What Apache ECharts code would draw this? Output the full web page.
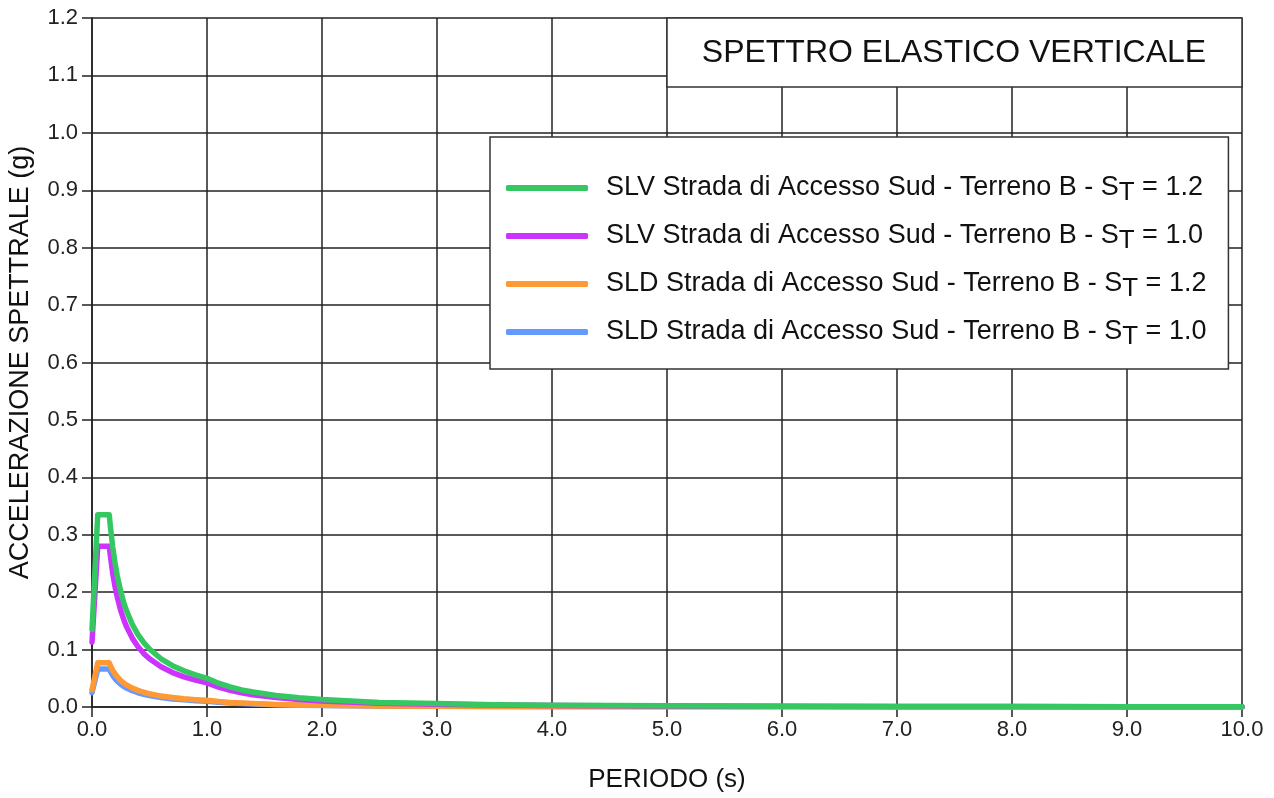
<!DOCTYPE html>
<html>
<head>
<meta charset="utf-8">
<style>
  html, body { margin: 0; padding: 0; background: #fff; }
  #chart { width: 1274px; height: 798px; }
</style>
<script src="https://cdn.jsdelivr.net/npm/echarts@6/dist/echarts.min.js"></script>
</head>
<body>
<div id="chart"></div>
<script>
// periodi (s)
const periods = [0, 0.05, 0.15, 0.16, 0.18, 0.2, 0.22, 0.25, 0.28, 0.3, 0.35, 0.4, 0.45, 0.5,
  0.6, 0.7, 0.8, 0.9, 1.0, 1.1, 1.2, 1.3, 1.4, 1.6, 1.8, 2.0, 2.5, 3.0, 3.5, 4.0,
  5.0, 6.0, 7.0, 8.0, 9.0, 10.0];

// accelerazioni spettrali (g)
const slv12 = [0.135, 0.335, 0.335, 0.314, 0.279, 0.251, 0.228, 0.201, 0.179, 0.168, 0.144, 0.126, 0.112, 0.101,
  0.084, 0.072, 0.063, 0.056, 0.050, 0.0415, 0.035, 0.0297, 0.026, 0.020, 0.016, 0.013, 0.008, 0.006, 0.004, 0.003,
  0.002, 0.0014, 0.001, 0.0008, 0.0006, 0.0005];
const slv10 = [0.113, 0.280, 0.280, 0.263, 0.233, 0.210, 0.191, 0.168, 0.150, 0.140, 0.120, 0.105, 0.093, 0.084,
  0.070, 0.060, 0.0525, 0.0467, 0.042, 0.0347, 0.029, 0.0249, 0.0214, 0.0164, 0.013, 0.0105, 0.0067, 0.0047, 0.0034, 0.0026,
  0.0017, 0.0012, 0.0009, 0.0007, 0.0005, 0.0004];
const sld12 = [0.030, 0.077, 0.077, 0.072, 0.064, 0.058, 0.0525, 0.046, 0.041, 0.0385, 0.033, 0.029, 0.0257, 0.023,
  0.019, 0.0165, 0.0144, 0.0128, 0.0116, 0.0095, 0.008, 0.0068, 0.0059, 0.0045, 0.0036, 0.0029, 0.0018, 0.0013, 0.0009, 0.0007,
  0.0005, 0.0003, 0.0002, 0.0002, 0.0001, 0.0001];
const sld10 = [0.025, 0.066, 0.066, 0.062, 0.055, 0.0495, 0.045, 0.0396, 0.0354, 0.033, 0.0283, 0.0248, 0.022, 0.0198,
  0.0165, 0.0141, 0.0124, 0.011, 0.0099, 0.0082, 0.0069, 0.0059, 0.0051, 0.0039, 0.0031, 0.0025, 0.0016, 0.0011, 0.0008, 0.0006,
  0.0004, 0.0003, 0.0002, 0.0002, 0.0001, 0.0001];

const seriesNames = [
  "SLV Strada di Accesso Sud - Terreno B - S_T = 1.2",
  "SLV Strada di Accesso Sud - Terreno B - S_T = 1.0",
  "SLD Strada di Accesso Sud - Terreno B - S_T = 1.2",
  "SLD Strada di Accesso Sud - Terreno B - S_T = 1.0"
];
const seriesColors = ["#35c862", "#cc33ff", "#ff9933", "#6699ff"];
const seriesValues = [slv12, slv10, sld12, sld10];

const titleText = "SPETTRO ELASTICO VERTICALE";
const xName = "PERIODO (s)";
const yName = "ACCELERAZIONE SPETTRALE (g)";

const font = "Liberation Sans, Arial, sans-serif";

let chart = echarts.init(document.getElementById("chart"));

// la serie blu sotto, la verde sopra
const drawOrder = [3, 2, 1, 0];
const series = drawOrder.map((i) => ({
  name: seriesNames[i],
  type: "line",
  showSymbol: false,
  symbol: "none",
  smooth: false,
  lineStyle: { width: 5.5, color: seriesColors[i], cap: "round", join: "round" },
  itemStyle: { color: seriesColors[i] },
  data: periods.map((t, k) => [t, seriesValues[i][k]]),
  z: 3
}));

const option = {
  animation: false,
  textStyle: { fontFamily: font },
  grid: { left: 92, right: 32, top: 18, bottom: 91, outerBoundsMode: "none", containLabel: false },
  xAxis: {
    type: "value",
    min: 0,
    max: 10,
    interval: 1,
    name: xName,
    nameLocation: "middle",
    nameGap: 60,
    nameTextStyle: { fontSize: 26, color: "#111", fontFamily: font },
    axisLine: { show: true, lineStyle: { color: "#222", width: 1.5 } },
    axisTick: { show: true, inside: false, length: 10, lineStyle: { color: "#222", width: 1.5 } },
    axisLabel: { fontSize: 22, color: "#222", margin: 12, formatter: (v) => v.toFixed(1) },
    splitLine: { show: true, lineStyle: { color: "#222", width: 1.5 } }
  },
  yAxis: {
    type: "value",
    min: 0,
    max: 1.2,
    interval: 0.1,
    name: yName,
    nameLocation: "middle",
    nameGap: 58,
    nameRotate: 90,
    nameTextStyle: { fontSize: 27, color: "#111", fontFamily: font },
    axisLine: { show: true, lineStyle: { color: "#222", width: 1.5 } },
    axisTick: { show: true, inside: false, length: 10, lineStyle: { color: "#222", width: 1.5 } },
    axisLabel: { fontSize: 22, color: "#222", margin: 14, formatter: (v) => v.toFixed(1) },
    splitLine: { show: true, lineStyle: { color: "#222", width: 1.5 } }
  },
  legend: {
    data: seriesNames,
    orient: "vertical",
    left: 490,
    top: 137,
    padding: [33, 22, 19, 16],
    itemGap: 12,
    itemWidth: 82,
    itemHeight: 6,
    icon: "roundRect",
    backgroundColor: "#fff",
    borderColor: "#333",
    borderWidth: 1.5,
    z: 10,
    selectedMode: false,
    formatter: (name) => {
      const parts = name.split("S_T");
      return "{n|" + parts[0] + "S}{sub|T}{n|" + parts[1] + "}";
    },
    textStyle: {
      fontSize: 27,
      color: "#111",
      padding: [0, 0, 0, 13],
      rich: {
        n: { fontSize: 27, color: "#111", fontFamily: font, lineHeight: 30 },
        sub: { fontSize: 26, color: "#111", fontFamily: font, lineHeight: 30, padding: [10, 0, 0, 0] }
      }
    }
  },
  graphic: [
    {
      type: "rect",
      z: 100,
      shape: { x: 667, y: 18, width: 575, height: 69 },
      style: { fill: "#fff", stroke: "#333", lineWidth: 1.5 }
    },
    {
      type: "text",
      z: 101,
      x: 954,
      y: 53,
      style: {
        text: titleText,
        fontSize: 32,
        fontFamily: font,
        fill: "#111",
        align: "center",
        verticalAlign: "middle"
      }
    }
  ],
  series: series
};

chart.setOption(option);
</script>
</body>
</html>
